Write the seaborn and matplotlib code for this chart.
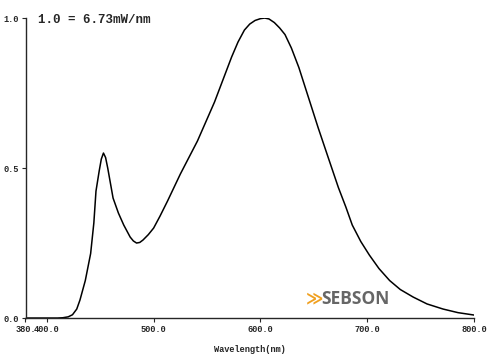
import matplotlib
matplotlib.use("Agg")
import matplotlib.pyplot as plt
import seaborn as sns
import pandas as pd

# Spectrum (relative power, 1.0 = 6.73 mW/nm)
wavelength = [380, 410, 415, 420, 424, 428, 431, 436, 441, 444, 446, 449, 451, 453, 455,
              457, 460, 462, 465, 467, 472, 475, 478, 481, 484, 487, 490, 495, 500,
              506, 513, 519, 525, 533, 541, 549, 557, 565, 573, 579, 585, 590,
              595, 600, 604, 608, 613, 618, 623, 629, 636, 645, 654, 663, 673, 680,
              686, 694, 702, 711, 721, 731, 743, 756, 771, 785, 800]
power = [0.0, 0.0, 0.001, 0.004, 0.011, 0.03, 0.06, 0.125, 0.215, 0.317, 0.423, 0.49, 0.53, 0.55, 0.535,
         0.50, 0.44, 0.40, 0.37, 0.35, 0.31, 0.29, 0.27, 0.257, 0.25, 0.252, 0.26, 0.278, 0.30,
         0.34, 0.39, 0.435, 0.48, 0.535, 0.59, 0.655, 0.72, 0.795, 0.87, 0.92, 0.96, 0.98,
         0.992, 0.998, 1.0, 0.997, 0.985, 0.967, 0.945, 0.9, 0.835, 0.735, 0.635, 0.54, 0.435, 0.37,
         0.31, 0.255, 0.21, 0.165, 0.125, 0.095, 0.07, 0.047, 0.03, 0.018, 0.01]

x_ticks = [380, 400, 500, 600, 700, 800]
x_labels = ["380.", "400.0", "500.0", "600.0", "700.0", "800.0"]
y_ticks = [0.0, 0.5, 1.0]
y_labels = ["0.0", "0.5", "1.0"]

df = pd.DataFrame({"wl": wavelength, "p": power})

sns.set_style("ticks")
mono = ["Liberation Mono", "DejaVu Sans Mono"]

fig = plt.figure(figsize=(5, 3.61), dpi=100)
ax = fig.add_axes([0.051, 0.119, 0.897, 0.831])
sns.lineplot(data=df, x="wl", y="p", color="black", linewidth=1.1, ax=ax)

ax.set_xlim(380, 800)
ax.set_ylim(0, 1.0)
ax.set_xticks(x_ticks)
ax.set_xticklabels(x_labels, family=mono, fontweight="bold", fontsize=6.2)
ax.set_yticks(y_ticks)
ax.set_yticklabels(y_labels, family=mono, fontweight="bold", fontsize=6.2)
ax.tick_params(axis="both", length=3, width=0.8, pad=2)
ax.set_xlabel("Wavelength(nm)", family=mono, fontweight="bold", fontsize=6.2, labelpad=8)
ax.set_ylabel("")
sns.despine(ax=ax)
for s in ["left", "bottom"]:
    ax.spines[s].set_linewidth(1.0)

ax.text(0.028, 0.995, "1.0 = 6.73mW/nm", transform=ax.transAxes, family=mono,
        fontweight="bold", fontsize=9, va="center", ha="left")

# logo
ax.text(0.625, 0.065, "\u226b", transform=ax.transAxes, color="#f0a020",
        fontsize=12, fontweight="bold", va="center", ha="left", family="DejaVu Sans")
ax.text(0.66, 0.065, "SEBSON", transform=ax.transAxes, color="#666666",
        fontsize=12.5, fontweight="bold", va="center", ha="left", family="Open Sans")

fig.savefig("out.png", dpi=100)
